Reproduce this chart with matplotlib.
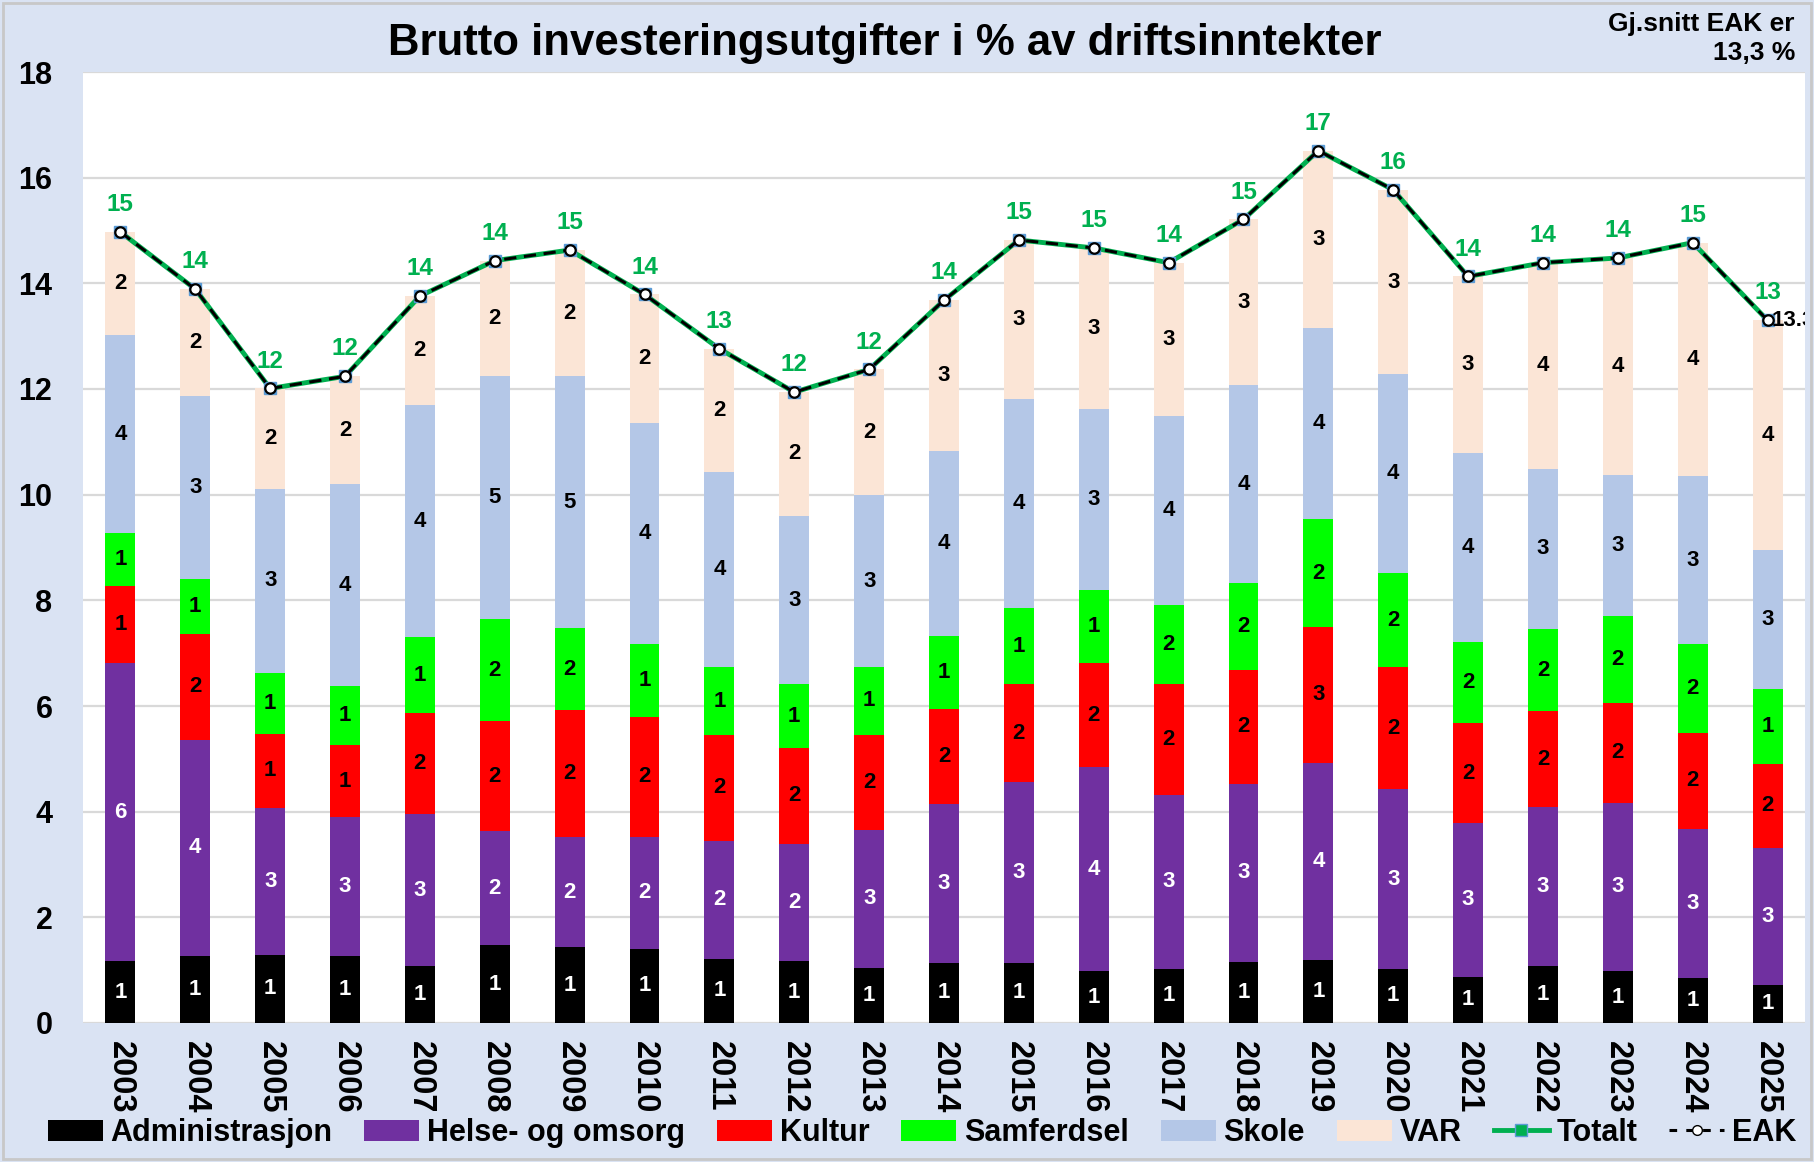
import numpy as np
import matplotlib
matplotlib.use("Agg")
import matplotlib.pyplot as plt
from matplotlib.lines import Line2D
from matplotlib.patches import Rectangle

plt.rcParams['font.family'] = ['Liberation Sans', 'DejaVu Sans']
plt.rcParams['font.weight'] = 'bold'

years = [str(y) for y in range(2003, 2026)]

administrasjon = [1.17, 1.27, 1.29, 1.27, 1.07, 1.47, 1.43, 1.41, 1.22, 1.17, 1.05, 1.14,
                  1.14, 0.98, 1.03, 1.16, 1.19, 1.03, 0.88, 1.07, 0.98, 0.86, 0.72]
helse = [5.64, 4.09, 2.78, 2.62, 2.89, 2.17, 2.09, 2.11, 2.23, 2.22, 2.61, 3.00,
         3.42, 3.86, 3.28, 3.36, 3.73, 3.39, 2.91, 3.02, 3.19, 2.82, 2.60]
kultur = [1.47, 2.00, 1.40, 1.37, 1.91, 2.07, 2.40, 2.28, 2.00, 1.82, 1.79, 1.81,
          1.85, 1.97, 2.10, 2.17, 2.58, 2.32, 1.88, 1.81, 1.89, 1.81, 1.59]
samferdsel = [0.99, 1.05, 1.16, 1.12, 1.43, 1.93, 1.55, 1.38, 1.28, 1.20, 1.29, 1.37,
              1.45, 1.38, 1.51, 1.63, 2.03, 1.77, 1.55, 1.56, 1.64, 1.68, 1.42]
skole = [3.75, 3.46, 3.48, 3.82, 4.40, 4.60, 4.77, 4.17, 3.69, 3.19, 3.25, 3.51,
         3.95, 3.43, 3.56, 3.76, 3.62, 3.77, 3.57, 3.03, 2.67, 3.18, 2.62]
var = [1.95, 2.02, 1.90, 2.04, 2.06, 2.19, 2.39, 2.44, 2.34, 2.34, 2.38, 2.85,
       3.01, 3.05, 2.91, 3.13, 3.36, 3.49, 3.34, 3.90, 4.11, 4.42, 4.35]
eak = [14.97, 13.89, 12.01, 12.24, 13.76, 14.43, 14.63, 13.79, 12.76, 11.94, 12.37, 13.68,
       14.82, 14.67, 14.39, 15.21, 16.51, 15.77, 14.13, 14.39, 14.48, 14.77, 13.30]
eak_avg_text = "Gj.snitt EAK er\n13,3 %"
eak_last_label = "13.3"

series = [
    ("Administrasjon", administrasjon, "#000000", "white"),
    ("Helse- og omsorg", helse, "#7030A0", "white"),
    ("Kultur", kultur, "#FF0000", "black"),
    ("Samferdsel", samferdsel, "#00FF00", "black"),
    ("Skole", skole, "#B4C7E7", "black"),
    ("VAR", var, "#FBE5D6", "black"),
]

W, H = 1814, 1162
fig = plt.figure(figsize=(W / 100, H / 100), dpi=100, facecolor="#DAE3F3")
ax = fig.add_axes([83 / W, 1 - 1023 / H, (1805 - 83) / W, (1023 - 72) / H])
ax.set_facecolor("white")

x = np.arange(len(years))
bottom = np.zeros(len(years))
handles = []
for name, vals, col, tcol in series:
    v = np.array(vals)
    b = ax.bar(x, v, 0.4, bottom=bottom, color=col, label=name, zorder=2)
    handles.append(b)
    for xi, yb, vi in zip(x, bottom, v):
        ax.text(xi, yb + vi / 2, f"{vi:.0f}", ha="center", va="center",
                color=tcol, fontsize=16, fontweight="bold", zorder=5)
    bottom = bottom + v

total = bottom
ax.plot(x, total, color="#00B050", lw=3.5, marker="s", markersize=8.5,
        markerfacecolor="#5B9BD5", markeredgecolor="#5B9BD5", zorder=6)
ax.plot(x, eak, color="black", lw=2.2, linestyle=(0, (4, 2.5)), marker="o",
        markersize=7.5, markerfacecolor="white", markeredgecolor="black",
        markeredgewidth=1.6, zorder=7)

for xi, t in zip(x, total):
    ax.annotate(f"{t:.0f}", (xi, t), xytext=(0, 15), textcoords="offset points",
                ha="center", va="baseline", color="#00B050", fontsize=17.5,
                fontweight="bold", zorder=8)

ax.annotate(eak_last_label, (x[-1], eak[-1]), xytext=(3, 0), textcoords="offset points",
            ha="left", va="center", color="black", fontsize=16, fontweight="bold",
            annotation_clip=False, clip_on=True, zorder=8)

ax.set_xlim(-0.5, len(years) - 0.5)
ax.set_ylim(0, 18)
ax.set_yticks(np.arange(0, 19, 2))
ax.yaxis.grid(True, color="#D9D9D9", lw=1.6, zorder=0)
ax.set_axisbelow(True)
for s in ax.spines.values():
    s.set_visible(False)
ax.tick_params(axis="y", length=0, pad=22, labelsize=22)
ax.set_xticks(x)
ax.set_xticklabels(years, rotation=-90, fontsize=23.5, fontweight="bold")
ax.tick_params(axis="x", length=0, pad=13)

fig.text(885 / W, 1 - 55 / H, "Brutto investeringsutgifter i % av driftsinntekter",
         ha="center", va="baseline", fontsize=31.5, fontweight="bold")
fig.text(1795 / W, 1 - 12 / H, eak_avg_text, ha="right", va="top", fontsize=19,
         fontweight="bold", linespacing=1.25)

tot_handle = Line2D([], [], color="#00B050", lw=3.5, marker="s", markersize=9,
                    markerfacecolor="#00B050", markeredgecolor="#5B9BD5")
eak_handle = Line2D([], [], color="black", lw=2.2, linestyle=(0, (2.5, 3)), marker="o",
                    markersize=7, markerfacecolor="white", markeredgecolor="black")
labels = [s[0] for s in series] + ["Totalt", "EAK"]
fig.legend(handles + [tot_handle, eak_handle], labels, loc="center",
           bbox_to_anchor=(922 / W, 1 - 1133 / H), ncol=8, frameon=False,
           handlelength=1.8, handletextpad=0.25, columnspacing=1.05,
           prop={"weight": "bold", "size": 22})

fig.patches.append(Rectangle((3 / W, 3 / H), 1 - 6 / W, 1 - 6 / H, transform=fig.transFigure,
                             fill=False, edgecolor="#C8C8C8", lw=2))

fig.savefig("out.png", dpi=100, facecolor=fig.get_facecolor())
